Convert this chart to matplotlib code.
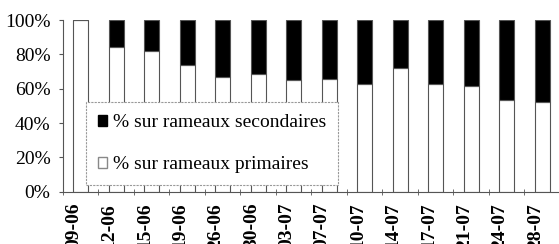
import numpy as np
import matplotlib.pyplot as plt
import matplotlib.transforms as mtransforms
from matplotlib.patches import Patch

################

dates = ['09-06', '12-06', '15-06', '19-06', '26-06', '30-06', '03-07',
         '07-07', '10-07', '14-07', '17-07', '21-07', '24-07', '28-07']
pct_primaires = [100, 84, 82, 73.7, 67, 68.6, 65, 65.7, 62.8, 72, 62.6, 61.6, 53.3, 52.1]
pct_secondaires = [100 - v for v in pct_primaires]

################

plt.rcParams['font.family'] = ['Liberation Serif', 'DejaVu Serif']
line_col = '#555555'

fig = plt.figure(figsize=(5.59, 2.44), dpi=100)
ax = fig.add_axes([0.1127, 0.2143, 0.889, 0.7037])

x = np.arange(len(dates))
w = 0.43
ax.bar(x, pct_primaires, w, color='white', edgecolor=line_col, linewidth=0.8)
ax.bar(x, pct_secondaires, w, bottom=pct_primaires, color='black',
       edgecolor=line_col, linewidth=0.8)

ax.set_xlim(-0.5, len(dates) - 0.5)
ax.set_ylim(0, 100)
ax.set_yticks([0, 20, 40, 60, 80, 100])
ax.set_yticklabels(['0%', '20%', '40%', '60%', '80%', '100%'], fontsize=14)
ax.tick_params(axis='y', length=3, color=line_col, pad=6)

ax.set_xticks(x)
ax.set_xticklabels(dates, rotation=90, fontsize=14, fontweight='bold', va='top')
ax.set_xticks(np.arange(-0.5, len(dates)), minor=True)
ax.tick_params(axis='x', which='major', length=0, pad=8)
ax.tick_params(axis='x', which='minor', length=5, direction='inout', color=line_col)
offset = mtransforms.ScaledTranslation(-7 / 100, 0, fig.dpi_scale_trans)
for lab in ax.get_xticklabels():
    lab.set_transform(lab.get_transform() + offset)

for s in ['top', 'right']:
    ax.spines[s].set_visible(False)
for s in ['left', 'bottom']:
    ax.spines[s].set_color(line_col)
    ax.spines[s].set_linewidth(0.8)

handles = [Patch(facecolor='black', edgecolor='black', label='% sur rameaux secondaires'),
           Patch(facecolor='white', edgecolor='#888888', label='% sur rameaux primaires')]
leg = ax.legend(handles=handles, loc='lower left', bbox_to_anchor=(0.046, 0.039),
                fontsize=14, frameon=True, fancybox=False, framealpha=1,
                labelspacing=1.3, handlelength=0.5, handleheight=0.5,
                handletextpad=0.3, borderpad=0.6, borderaxespad=0)
leg.get_frame().set_edgecolor('#999999')
leg.get_frame().set_linewidth(0.8)
leg.get_frame().set_linestyle((0, (2, 1)))

fig.savefig('out.png', dpi=100)
